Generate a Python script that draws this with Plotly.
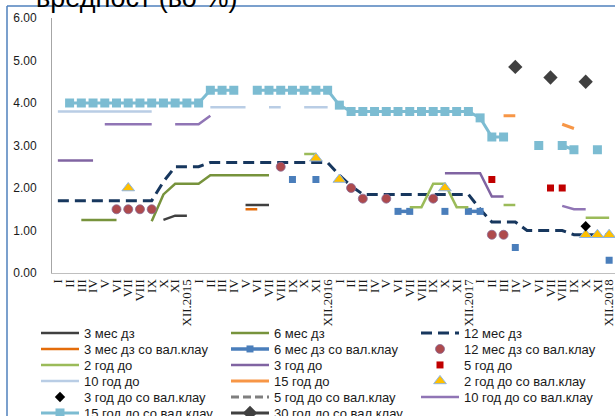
import plotly.graph_objects as go

months = ["I", "II", "III", "IV", "V", "VI", "VII", "VIII", "IX", "X", "XI"]
tick_labels = []
for yr in ["2015", "2016", "2017", "2018"]:
    tick_labels += months + ["XII." + yr]
x_idx = list(range(len(tick_labels)))

def series(points):
    vals = [None] * len(tick_labels)
    for i, v in points.items():
        vals[i] = v
    return vals

m3_dz = series({9: 1.25, 10: 1.35, 11: 1.35, 16: 1.6, 17: 1.6, 18: 1.6})
m6_dz = series({2: 1.25, 3: 1.25, 4: 1.25, 5: 1.25, 8: 1.22, 9: 1.85, 10: 2.1, 11: 2.1, 12: 2.1,
                13: 2.3, 14: 2.3, 15: 2.3, 16: 2.3, 17: 2.3, 18: 2.3})
m12_dz = series({0: 1.7, 1: 1.7, 2: 1.7, 3: 1.7, 4: 1.7, 5: 1.7, 6: 1.7, 7: 1.7, 8: 1.7, 9: 2.15,
                 10: 2.5, 11: 2.5, 12: 2.5, 13: 2.6, 14: 2.6, 15: 2.6, 16: 2.6, 17: 2.6, 18: 2.6,
                 19: 2.6, 20: 2.6, 21: 2.6, 22: 2.6, 23: 2.6, 24: 2.3, 25: 2.05, 26: 1.85, 27: 1.85,
                 28: 1.85, 29: 1.85, 30: 1.85, 31: 1.85, 32: 1.85, 33: 1.85, 34: 1.85, 35: 1.85,
                 36: 1.5, 37: 1.2, 38: 1.2, 39: 1.2, 40: 1.0, 41: 1.0, 42: 1.0, 43: 1.0, 44: 0.9,
                 45: 0.9, 46: 0.9, 47: 0.9})
m3_dz_fx = series({16: 1.5, 17: 1.5})
m6_dz_fx = series({20: 2.2, 22: 2.2, 29: 1.45, 30: 1.45, 33: 1.45, 35: 1.45, 36: 1.45, 39: 0.6, 47: 0.3})
m12_dz_fx = series({5: 1.5, 6: 1.5, 7: 1.5, 8: 1.5, 19: 2.5, 25: 2.0, 26: 1.75, 28: 1.75, 32: 1.75,
                    37: 0.9, 38: 0.9})
y2_do = series({21: 2.8, 22: 2.8, 30: 1.55, 31: 1.55, 32: 2.1, 33: 2.1, 34: 1.55, 35: 1.55,
                38: 1.6, 39: 1.6, 45: 1.3, 46: 1.3, 47: 1.3})
y3_do = series({0: 2.65, 1: 2.65, 2: 2.65, 3: 2.65, 33: 2.35, 34: 2.35, 35: 2.35, 36: 2.35, 37: 1.8, 38: 1.8})
y5_do = series({37: 2.2, 42: 2.0, 43: 2.0})
y10_do = series({0: 3.8, 1: 3.8, 2: 3.8, 3: 3.8, 4: 3.8, 5: 3.8, 6: 3.8, 7: 3.8, 8: 3.8,
                 13: 3.9, 14: 3.9, 15: 3.9, 16: 3.9, 18: 3.9, 19: 3.9, 21: 3.9, 22: 3.9, 23: 3.9})
y15_do = series({38: 3.7, 39: 3.7, 43: 3.5, 44: 3.4})
y2_do_fx = series({6: 2.0, 22: 2.7, 24: 2.2, 33: 2.0, 45: 0.9, 46: 0.9, 47: 0.9})
y3_do_fx = series({45: 1.1})
y5_do_fx = series({})
y10_do_fx = series({4: 3.5, 5: 3.5, 6: 3.5, 7: 3.5, 8: 3.5, 10: 3.5, 11: 3.5, 12: 3.5, 13: 3.7,
                    43: 1.58, 44: 1.5, 45: 1.5})
y15_do_fx = series({1: 4.0, 2: 4.0, 3: 4.0, 4: 4.0, 5: 4.0, 6: 4.0, 7: 4.0, 8: 4.0, 9: 4.0, 10: 4.0,
                    11: 4.0, 12: 4.0, 13: 4.3, 14: 4.3, 15: 4.3, 17: 4.3, 18: 4.3, 19: 4.3, 20: 4.3,
                    21: 4.3, 22: 4.3, 23: 4.3, 24: 3.95, 25: 3.8, 26: 3.8, 27: 3.8, 28: 3.8, 29: 3.8,
                    30: 3.8, 31: 3.8, 32: 3.8, 33: 3.8, 34: 3.8, 35: 3.8, 36: 3.65, 37: 3.2, 38: 3.2,
                    41: 3.0, 43: 3.0, 44: 2.9, 46: 2.9})
y30_do_fx = series({39: 4.85, 42: 4.6, 45: 4.5})

fig = go.Figure()
LW = 2.5

def add(name, y, legend, mode="lines", color="#000", width=LW, dash=None, symbol=None, msize=8,
        mline=None):
    line = dict(color=color, width=width)
    if dash:
        line["dash"] = dash
    marker = dict(color=color, size=msize)
    if symbol:
        marker["symbol"] = symbol
    if mline:
        marker["line"] = mline
    fig.add_trace(go.Scatter(x=x_idx, y=y, name=name, mode=mode, line=line, marker=marker,
                             legend=legend, connectgaps=False, hoverinfo="skip"))

add("3 мес дз", m3_dz, "legend", color="#404040")
add("6 мес дз", m6_dz, "legend", color="#77933C")
add("12 мес дз", m12_dz, "legend", color="#17375E", width=3, dash="11px,6px")
add("3 мес дз со вал.клау", m3_dz_fx, "legend2", color="#E46C0A")
add("6 мес дз со вал.клау", m6_dz_fx, "legend2", mode="lines+markers", color="#4A7EBB", width=3.5,
    symbol="square", msize=7)
add("12 мес дз со вал.клау", m12_dz_fx, "legend2", mode="markers", color="#AE4A4D", symbol="circle",
    msize=9, mline=dict(color="#8C6C96", width=0.8))
add("2 год до", y2_do, "legend3", color="#9BBB59")
add("3 год до", y3_do, "legend3", color="#8064A2")
add("5 год до", y5_do, "legend3", mode="markers", color="#C00000", symbol="square", msize=7)
add("10 год до", y10_do, "legend4", color="#B9CDE5")
add("15 год до", y15_do, "legend4", color="#F79646", width=3)
add("2 год до со вал.клау", y2_do_fx, "legend4", mode="markers", color="#FFC000", symbol="triangle-up",
    msize=11, mline=dict(color="#8EB4E3", width=1))
add("3 год до со вал.клау", y3_do_fx, "legend5", mode="markers", color="#000000", symbol="diamond",
    msize=8)
add("5 год до со вал.клау", y5_do_fx, "legend5", color="#7F7F7F", width=3, dash="8px,4px")
add("10 год до со вал.клау", y10_do_fx, "legend5", color="#9075B5")
add("15 год до со вал.клау", y15_do_fx, "legend6", mode="lines+markers", color="#7CBCD2", width=3,
    symbol="square", msize=9)
add("30 год до со вал.клау", y30_do_fx, "legend6", mode="lines+markers", color="#404040", width=3,
    symbol="diamond", msize=11)

W, H = 615, 416
ML, MT, MB, MR = 52, 18, 143, 0
PW, PH = W - ML - MR, H - MT - MB

def px_x(px):
    return (px - ML) / PW

def px_y(py):
    return (H - MB - py) / PH

legend_font = dict(family="Liberation Sans, Arial, sans-serif", size=13, color="#1a1a1a")
row_centers = [333, 349, 365, 381, 397, 413]
legends = {}
for k, yc in enumerate(row_centers):
    key = "legend" if k == 0 else "legend%d" % (k + 1)
    legends[key] = dict(orientation="h", x=px_x(36), xanchor="left", y=px_y(yc), yanchor="middle",
                        entrywidth=137, entrywidthmode="pixels", font=legend_font, itemwidth=38,
                        bgcolor="rgba(0,0,0,0)", borderwidth=0, tracegroupgap=0,
                        itemclick=False, itemdoubleclick=False)

fig.update_layout(
    width=W, height=H,
    margin=dict(l=ML, r=MR, t=MT, b=MB, autoexpand=False),
    paper_bgcolor="white", plot_bgcolor="white",
    showlegend=True,
    xaxis=dict(range=[-0.5, 47.5], tickmode="array", tickvals=x_idx, ticktext=tick_labels,
               tickangle=-90, showgrid=False, zeroline=False, showline=True, linecolor="#BFBFBF",
               linewidth=1, ticks="", automargin=False, ticklabeloverflow="allow",
               tickfont=dict(family="Liberation Serif, Times New Roman, serif", size=13, color="#1a1a1a")),
    yaxis=dict(range=[0, 6], tickmode="array", tickvals=[0, 1, 2, 3, 4, 5, 6],
               ticktext=["0.00", "1.00", "2.00", "3.00", "4.00", "5.00", "6.00"],
               showgrid=False, zeroline=False, showline=True, linecolor="#A6A6A6", linewidth=1,
               ticks="", automargin=False, ticklabelstandoff=12, ticklabeloverflow="allow",
               tickfont=dict(family="Liberation Sans, Arial, sans-serif", size=12, color="#1a1a1a")),
    shapes=[
        dict(type="line", xref="paper", yref="paper", x0=px_x(7), x1=px_x(7), y0=px_y(6), y1=px_y(420),
             line=dict(color="#4F81BD", width=1.5)),
        dict(type="line", xref="paper", yref="paper", x0=px_x(7), x1=px_x(620), y0=px_y(6), y1=px_y(6),
             line=dict(color="#4F81BD", width=1.5)),
    ],
    annotations=[
        dict(text="вредност (во %)", xref="paper", yref="paper", x=px_x(34), y=px_y(-2),
             xanchor="left", yanchor="middle", showarrow=False,
             font=dict(family="Liberation Sans, Arial, sans-serif", size=27, color="#000000")),
    ],
    **legends,
)

fig.write_html("out.html", config={"displayModeBar": False},
               post_script="document.body.style.margin='0px';document.body.style.padding='0px';")
